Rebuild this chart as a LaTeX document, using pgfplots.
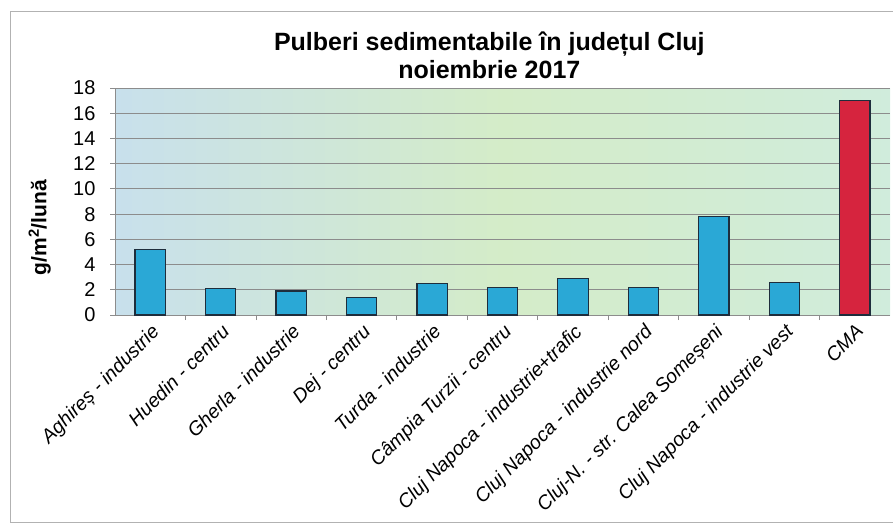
\documentclass[border=0pt]{standalone}
\usepackage{pgfplots}
\pgfplotsset{compat=1.18}
\usepackage{fontspec}
\setmainfont{Liberation Sans}
\definecolor{barblue}{RGB}{42,168,214}
\definecolor{baredge}{RGB}{30,45,60}
\definecolor{cmared}{RGB}{214,36,62}
\definecolor{bgleft}{RGB}{200,224,236}
\definecolor{bgmid}{RGB}{212,236,200}
\definecolor{bgright}{RGB}{208,236,220}
\begin{document}
\begin{tikzpicture}[x=1bp,y=1bp]
\useasboundingbox (0,-525) rectangle (893,0);
\draw[color=black!30, line width=1bp] (10,-522) -- (10,-12) -- (900,-12);
\draw[color=black!30, line width=1bp] (10,-522) -- (900,-522);
\begin{axis}[
  at={(115bp,-315bp)}, anchor=south west,
  width=775bp, height=227bp, scale only axis,
  xmin=-0.5, xmax=10.5, ymin=0, ymax=18,
  axis lines*=left,
  axis line style={draw=black!45, line width=0.8bp},
  axis background/.style={left color=bgleft, right color=bgright, middle color=bgmid},
  ytick={0,2,...,18},
  xtick={0,...,10},
  xticklabels={Aghireș - industrie, Huedin - centru, Gherla - industrie, Dej - centru, Turda - industrie, Câmpia Turzii - centru, Cluj Napoca - industrie+trafic, Cluj Napoca - industrie nord, Cluj-N. - str. Calea Someșeni, Cluj Napoca - industrie vest, CMA},
  minor xtick={0.5,1.5,...,9.5},
  major x tick style={draw=none},
  minor x tick style={draw=black!45, line width=0.8bp},
  minor tick length=5bp,
  major tick length=5bp,
  tick align=outside,
  ytick style={draw=black!45, line width=0.8bp},
  ymajorgrids,
  grid style={draw=black!45, line width=0.8bp},
  /pgf/number format/assume math mode=true,
  yticklabel style={font=\fontsize{20bp}{22bp}\selectfont, xshift=-11bp},
  xticklabel style={font=\itshape\fontsize{19.5bp}{21bp}\selectfont, rotate=45, anchor=north east, inner sep=2bp},
  ylabel={g/m\textsuperscript{2}/lună},
  ylabel style={font=\bfseries\fontsize{21bp}{23bp}\selectfont, at={(axis description cs:-0.097,0.385)}, anchor=center, rotate=0},
  title={Pulberi sedimentabile în județul Cluj\\noiembrie 2017},
  title style={font=\bfseries\fontsize{25bp}{28bp}\selectfont, align=center, at={(axis description cs:0.483,1)}, anchor=south, inner sep=2bp, yshift=1bp},
  clip=false,
]
\addplot[ybar, bar shift=0pt, bar width=0.43, fill=barblue, draw=baredge, line width=1.2bp]
  coordinates {(0,5.2) (1,2.1) (2,1.9) (3,1.4) (4,2.5) (5,2.2) (6,2.9) (7,2.2) (8,7.8) (9,2.6)};
\addplot[ybar, bar shift=0pt, bar width=0.43, fill=cmared, draw=baredge, line width=1.2bp]
  coordinates {(10,17)};
\end{axis}
\end{tikzpicture}
\end{document}
